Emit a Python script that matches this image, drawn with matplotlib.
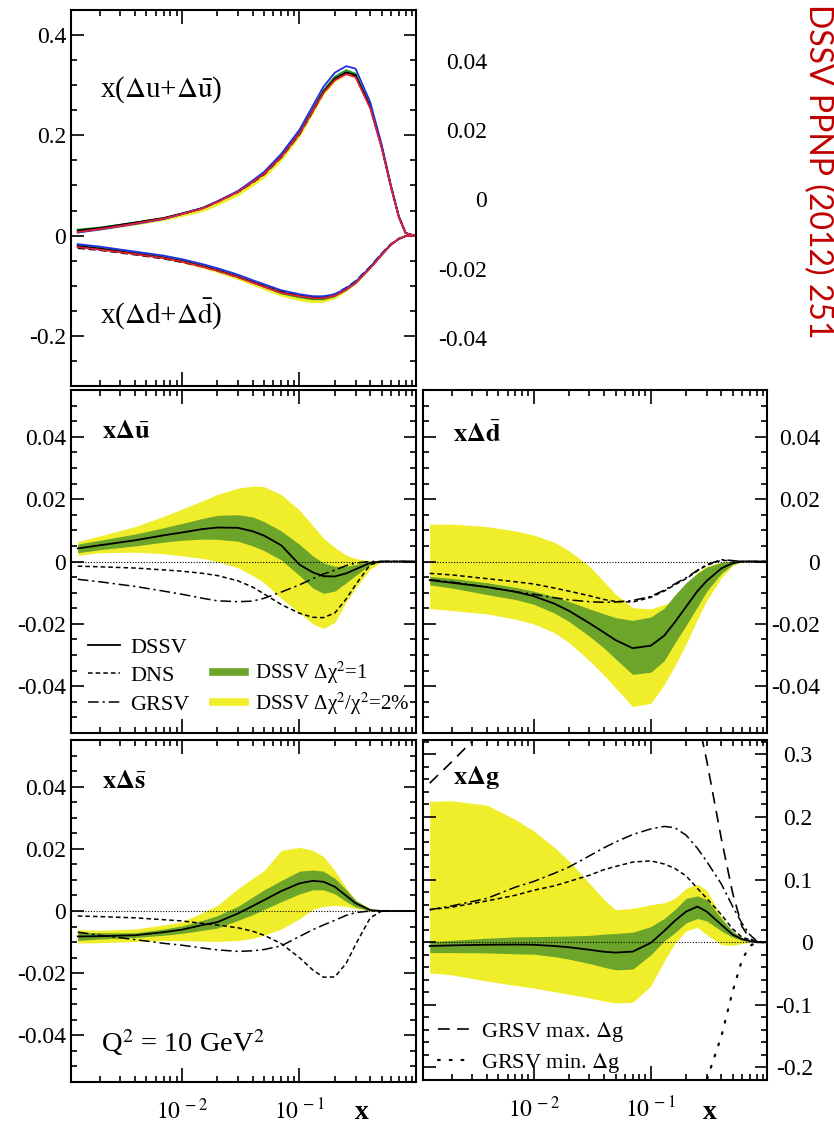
import numpy as np
import matplotlib
matplotlib.use('Agg')
import matplotlib.pyplot as plt
from matplotlib.lines import Line2D
from matplotlib.ticker import MultipleLocator, LogLocator, NullFormatter, FixedLocator, FuncFormatter

# common x grid (log scale)
xg = [1.3e-3, 2e-3, 4e-3, 7e-3, 0.01, 0.015, 0.02, 0.03, 0.04, 0.05, 0.07, 0.1,
      0.13, 0.16, 0.2, 0.25, 0.3, 0.4, 0.5, 0.6, 0.7, 0.8, 0.95]

# top panel: x(Du+Dubar) and x(Dd+Ddbar), several fits
u_black = [0.010, 0.015, 0.026, 0.035, 0.044, 0.055, 0.068, 0.088, 0.108, 0.124, 0.158, 0.204,
           0.250, 0.287, 0.313, 0.326, 0.320, 0.257, 0.177, 0.098, 0.038, 0.005, 0.0]
u_blue = [0.006, 0.012, 0.023, 0.033, 0.043, 0.055, 0.068, 0.089, 0.110, 0.127, 0.163, 0.211,
          0.259, 0.297, 0.325, 0.338, 0.333, 0.266, 0.182, 0.100, 0.038, 0.005, 0.0]
u_red = [0.007, 0.013, 0.024, 0.034, 0.043, 0.054, 0.067, 0.087, 0.107, 0.123, 0.157, 0.203,
         0.249, 0.285, 0.310, 0.322, 0.316, 0.254, 0.175, 0.097, 0.037, 0.005, 0.0]
u_green = [0.012, 0.016, 0.026, 0.035, 0.044, 0.055, 0.068, 0.088, 0.107, 0.123, 0.157, 0.205,
           0.252, 0.290, 0.317, 0.330, 0.323, 0.258, 0.178, 0.098, 0.038, 0.005, 0.0]
u_dash = [0.009, 0.014, 0.025, 0.034, 0.043, 0.054, 0.067, 0.087, 0.106, 0.122, 0.156, 0.202,
          0.248, 0.285, 0.311, 0.324, 0.318, 0.256, 0.177, 0.098, 0.038, 0.005, 0.0]
u_band_lo = [0.006, 0.011, 0.021, 0.030, 0.038, 0.048, 0.060, 0.080, 0.099, 0.115, 0.149, 0.196,
             0.243, 0.281, 0.307, 0.321, 0.315, 0.253, 0.174, 0.096, 0.037, 0.005, 0.0]
u_band_hi = [0.012, 0.017, 0.028, 0.037, 0.046, 0.057, 0.070, 0.090, 0.110, 0.126, 0.160, 0.206,
             0.252, 0.289, 0.315, 0.328, 0.322, 0.259, 0.179, 0.099, 0.039, 0.005, 0.0]

d_black = [-0.021, -0.026, -0.036, -0.044, -0.051, -0.061, -0.069, -0.082, -0.093, -0.101, -0.113, -0.120,
           -0.124, -0.124, -0.119, -0.107, -0.094, -0.064, -0.038, -0.018, -0.0066, -0.001, 0.0]
d_blue = [-0.017, -0.022, -0.032, -0.040, -0.047, -0.057, -0.065, -0.078, -0.089, -0.097, -0.109, -0.117,
          -0.121, -0.121, -0.117, -0.105, -0.092, -0.063, -0.037, -0.018, -0.0066, -0.001, 0.0]
d_red = [-0.023, -0.028, -0.037, -0.045, -0.052, -0.062, -0.070, -0.083, -0.094, -0.102, -0.114, -0.121,
         -0.125, -0.125, -0.120, -0.108, -0.095, -0.065, -0.039, -0.018, -0.0066, -0.001, 0.0]
d_green = [-0.019, -0.024, -0.034, -0.043, -0.050, -0.060, -0.068, -0.082, -0.093, -0.102, -0.115, -0.123,
           -0.127, -0.127, -0.121, -0.108, -0.094, -0.064, -0.038, -0.018, -0.0066, -0.001, 0.0]
d_dash = [-0.025, -0.029, -0.038, -0.046, -0.053, -0.062, -0.070, -0.083, -0.093, -0.101, -0.112, -0.119,
          -0.122, -0.122, -0.117, -0.104, -0.091, -0.062, -0.036, -0.017, -0.006, -0.001, 0.0]
d_band_lo = [-0.022, -0.027, -0.037, -0.046, -0.054, -0.065, -0.074, -0.088, -0.099, -0.108, -0.121, -0.130,
             -0.134, -0.133, -0.126, -0.111, -0.097, -0.066, -0.039, -0.019, -0.007, -0.001, 0.0]
d_band_hi = [-0.018, -0.023, -0.033, -0.041, -0.048, -0.058, -0.066, -0.079, -0.090, -0.098, -0.110, -0.117,
             -0.120, -0.120, -0.116, -0.105, -0.092, -0.063, -0.037, -0.017, -0.006, -0.001, 0.0]

# x Delta ubar
ubar_dssv = [0.0042, 0.0052, 0.0068, 0.0084, 0.0093, 0.0104, 0.0109, 0.0108, 0.0097, 0.0083, 0.0052, -0.001,
             -0.0035, -0.0047, -0.0048, -0.0038, -0.0025, -0.0004, 0, 0, 0, 0, 0]
ubar_g_hi = [0.0056, 0.0068, 0.0088, 0.0108, 0.0122, 0.0138, 0.0148, 0.015, 0.0143, 0.0128, 0.0098, 0.0055,
             0.0018, -0.0005, -0.0015, -0.0015, -0.001, 0, 0, 0, 0, 0, 0]
ubar_g_lo = [0.0028, 0.0038, 0.005, 0.0062, 0.0068, 0.0072, 0.0071, 0.0065, 0.005, 0.0035, 0.0005, -0.0045,
             -0.0085, -0.0102, -0.0095, -0.0068, -0.0045, -0.001, 0, 0, 0, 0, 0]
ubar_y_hi = [0.0064, 0.0082, 0.0112, 0.0145, 0.0168, 0.0195, 0.0215, 0.0235, 0.0242, 0.024, 0.0215, 0.0165,
             0.0115, 0.0075, 0.0045, 0.002, 0.001, 0.0002, 0, 0, 0, 0, 0]
ubar_y_lo = [0.002, 0.0028, 0.003, 0.0025, 0.0018, 0.001, 0.0, -0.002, -0.0045, -0.0068, -0.0118, -0.0165,
             -0.02, -0.0215, -0.0195, -0.013, -0.0085, -0.0025, 0, 0, 0, 0, 0]
ubar_dns = [-0.0015, -0.0017, -0.0021, -0.0027, -0.0031, -0.0038, -0.0045, -0.0062, -0.0082, -0.0104, -0.0138, -0.0166,
            -0.0179, -0.018, -0.0165, -0.012, -0.0075, -0.001, 0, 0, 0, 0, 0]
ubar_grsv = [-0.0057, -0.0065, -0.008, -0.0095, -0.0105, -0.0118, -0.0126, -0.0129, -0.0127, -0.0118, -0.0098, -0.0075,
             -0.0055, -0.004, -0.0028, -0.0013, -0.0005, 0, 0, 0, 0, 0, 0]

# x Delta dbar
dbar_dssv = [-0.006, -0.0068, -0.0082, -0.0097, -0.0111, -0.0135, -0.0158, -0.0198, -0.0228, -0.0252, -0.0278, -0.027,
             -0.0238, -0.0195, -0.0145, -0.0095, -0.0062, -0.0022, -0.0005, 0, 0, 0, 0]
dbar_g_hi = [-0.0048, -0.0054, -0.0068, -0.0083, -0.0095, -0.0113, -0.0128, -0.0152, -0.0168, -0.018, -0.0189, -0.0178,
             -0.015, -0.0108, -0.0068, -0.0038, -0.0018, -0.0003, 0, 0, 0, 0, 0]
dbar_g_lo = [-0.0075, -0.0085, -0.0106, -0.0122, -0.0137, -0.0165, -0.0192, -0.024, -0.0278, -0.0312, -0.0362, -0.0355,
             -0.0318, -0.0262, -0.0205, -0.0145, -0.0095, -0.0038, -0.001, 0, 0, 0, 0]
dbar_y_hi = [0.012, 0.012, 0.0112, 0.0098, 0.0085, 0.0062, 0.0035, -0.0015, -0.0065, -0.0105, -0.0148, -0.0152,
             -0.0138, -0.0125, -0.0075, -0.0035, -0.0015, -0.0002, 0, 0, 0, 0, 0]
dbar_y_lo = [-0.0151, -0.0157, -0.0168, -0.0185, -0.02, -0.0228, -0.026, -0.0318, -0.0365, -0.0405, -0.0465, -0.0455,
             -0.0395, -0.0335, -0.0265, -0.0185, -0.0125, -0.0052, -0.0012, 0, 0, 0, 0]
dbar_dns = [-0.0038, -0.0043, -0.0055, -0.0065, -0.0072, -0.0085, -0.0095, -0.011, -0.0122, -0.0128, -0.013, -0.0115,
            -0.0095, -0.0075, -0.0055, -0.003, -0.0012, 0.0004, 0.0002, 0, 0, 0, 0]
dbar_grsv = [-0.0058, -0.0066, -0.0082, -0.0097, -0.0105, -0.0116, -0.0123, -0.0129, -0.0131, -0.013, -0.0125, -0.0112,
             -0.0092, -0.0072, -0.0052, -0.0028, -0.001, 0.0006, 0.0003, 0, 0, 0, 0]

# x Delta sbar
sbar_dssv = [-0.0082, -0.0081, -0.0078, -0.0068, -0.006, -0.0045, -0.0036, -0.0008, 0.0016, 0.0035, 0.0064, 0.0089,
             0.0097, 0.0094, 0.0078, 0.0049, 0.0025, 0.0003, 0, 0, 0, 0, 0]
sbar_g_hi = [-0.0068, -0.007, -0.007, -0.0058, -0.0048, -0.003, -0.0015, 0.0015, 0.0045, 0.0068, 0.0098, 0.0128,
             0.0132, 0.0128, 0.0105, 0.0068, 0.0035, 0.0005, 0, 0, 0, 0, 0]
sbar_g_lo = [-0.0095, -0.009, -0.0085, -0.0078, -0.0072, -0.0062, -0.0055, -0.003, -0.0012, 0.0005, 0.003, 0.0055,
             0.0068, 0.0068, 0.0055, 0.003, 0.0013, 0.0, 0, 0, 0, 0, 0]
sbar_y_hi = [-0.006, -0.0062, -0.0058, -0.0045, -0.0035, -0.0005, 0.0018, 0.0072, 0.0105, 0.013, 0.0195, 0.0205,
             0.0195, 0.0175, 0.013, 0.0075, 0.0035, 0.0008, 0, 0, 0, 0, 0]
sbar_y_lo = [-0.0103, -0.0102, -0.0098, -0.0095, -0.0095, -0.0097, -0.0098, -0.0095, -0.0088, -0.0078, -0.0058, -0.0025,
             0.0005, 0.0015, 0.0018, 0.0015, 0.0008, 0.0001, 0, 0, 0, 0, 0]
sbar_dns = [-0.0016, -0.0018, -0.0022, -0.0028, -0.0032, -0.004, -0.0045, -0.0054, -0.0065, -0.0078, -0.0105, -0.015,
            -0.019, -0.0213, -0.0212, -0.0168, -0.0108, -0.0022, 0, 0, 0, 0, 0]
sbar_grsv = [-0.0068, -0.0078, -0.0092, -0.0104, -0.011, -0.0119, -0.0125, -0.013, -0.0128, -0.0124, -0.0112, -0.0082,
             -0.006, -0.0045, -0.003, -0.0014, -0.0005, 0, 0, 0, 0, 0, 0]

# x Delta g
g_dssv = [-0.006, -0.005, -0.004, -0.0037, -0.004, -0.006, -0.008, -0.012, -0.0152, -0.0165, -0.015, -0.001,
          0.018, 0.034, 0.049, 0.057, 0.049, 0.028, 0.012, 0.005, 0.002, 0, 0]
g_g_hi = [0.001, 0.003, 0.0065, 0.0085, 0.009, 0.0095, 0.010, 0.011, 0.013, 0.014, 0.016, 0.025,
          0.038, 0.052, 0.070, 0.074, 0.068, 0.038, 0.018, 0.007, 0.002, 0, 0]
g_g_lo = [-0.0165, -0.0165, -0.017, -0.0185, -0.019, -0.023, -0.027, -0.034, -0.04, -0.044, -0.043, -0.02,
          0.002, 0.015, 0.031, 0.038, 0.034, 0.018, 0.008, 0.003, 0.0008, 0, 0]
g_y_hi = [0.225, 0.226, 0.219, 0.196, 0.178, 0.152, 0.13, 0.094, 0.068, 0.052, 0.054, 0.06,
          0.063, 0.07, 0.086, 0.093, 0.083, 0.041, 0.014, 0.005, 0.002, 0, 0]
g_y_lo = [-0.049, -0.052, -0.062, -0.069, -0.073, -0.079, -0.083, -0.089, -0.094, -0.097, -0.096, -0.07,
          -0.03, -0.002, 0.018, 0.024, 0.012, -0.004, -0.005, -0.002, 0, 0, 0]
g_dns = [0.052, 0.056, 0.066, 0.075, 0.083, 0.09, 0.097, 0.107, 0.116, 0.121, 0.128, 0.13,
         0.125, 0.118, 0.106, 0.086, 0.07, 0.044, 0.021, 0.008, 0.004, 0, 0]
g_grsv = [0.052, 0.058, 0.07, 0.088, 0.097, 0.11, 0.12, 0.138, 0.151, 0.16, 0.172, 0.181,
          0.185, 0.183, 0.171, 0.15, 0.129, 0.093, 0.057, 0.03, 0.012, 0.002, 0]
g_max = [0.254, 0.288, 0.345, 0.39, 0.42, 0.45, 0.47, 0.5, 0.52, 0.53, 0.54, 0.55,
         0.53, 0.48, 0.42, 0.36, 0.29, 0.165, 0.078, 0.025, 0.006, 0, 0]
x_gmin = [0.25, 0.3, 0.4, 0.5, 0.6, 0.7, 0.8, 0.95]
g_min = [-0.3, -0.22, -0.15, -0.078, -0.028, -0.006, 0, 0]

yt_top = [-0.2, 0, 0.2, 0.4]
yt_q = [-0.04, -0.02, 0, 0.02, 0.04]
yt_g = [-0.2, -0.1, 0, 0.1, 0.2, 0.3]

YELLOW = '#f0ee2b'
GREEN = '#6ca52a'
LS_DNS = (0, (3, 2))
LS_GRSV = (0, (7, 2.5, 1.5, 2.5))
LS_ZERO = (0, (1, 1.5))
LS_MAX = (0, (7, 4.5))
LS_MIN = (0, (0.8, 4.5))
XLIM = (1.14e-3, 0.98)
TICK_FS = 17

plt.rcParams['font.family'] = ['Liberation Serif', 'DejaVu Serif']
plt.rcParams['mathtext.fontset'] = 'stix'

W, H = 834, 1124
fig = plt.figure(figsize=(W / 100, H / 100), dpi=100)


def px_axes(x0, y0, x1, y1):
    return fig.add_axes([x0 / W, 1 - y1 / H, (x1 - x0) / W, (y1 - y0) / H])


def fmt(v):
    return f'{round(v, 6) + 0:g}'


def style(ax, ylim, yt, minor, right=False, pad=4, xlabels=False):
    ax.set_xscale('log')
    ax.set_xlim(XLIM)
    ax.set_ylim(ylim)
    ax.xaxis.set_major_locator(FixedLocator([1e-2, 1e-1]))
    ax.xaxis.set_minor_locator(LogLocator(base=10, subs=np.arange(2, 10)))
    ax.xaxis.set_minor_formatter(NullFormatter())
    ax.xaxis.set_major_formatter(FuncFormatter(lambda v, p: r'$10^{\,%d}$' % round(np.log10(v))))
    ax.yaxis.set_minor_locator(MultipleLocator(minor))
    ax.tick_params(which='both', direction='in', top=True, right=True, width=1.2,
                   labelsize=TICK_FS, labelbottom=xlabels)
    ax.tick_params(axis='x', which='major', length=10, pad=12)
    ax.tick_params(axis='y', which='major', length=9)
    ax.tick_params(which='minor', length=4.5)
    if right:
        ax.tick_params(axis='y', labelleft=False, labelright=True, pad=pad)
        ax.set_yticks(yt, labels=[fmt(v) for v in yt], ha='right')
    else:
        ax.set_yticks(yt, labels=[fmt(v) for v in yt])
    for s in ax.spines.values():
        s.set_linewidth(1.5)


def pdf_panel(ax, y_lo, y_hi, g_lo, g_hi, central, dns, grsv):
    ax.fill_between(xg, y_lo, y_hi, color=YELLOW, lw=0)
    ax.fill_between(xg, g_lo, g_hi, color=GREEN, lw=0)
    ax.axhline(0, color='k', lw=0.8, ls=LS_ZERO)
    ax.plot(xg, dns, color='k', lw=1.1, ls=LS_DNS)
    ax.plot(xg, grsv, color='k', lw=1.1, ls=LS_GRSV)
    ax.plot(xg, central, color='k', lw=1.3)


# ---- top panel
ax0 = px_axes(71, 10, 416, 386)
ax0.fill_between(xg, u_band_lo, u_band_hi, color=YELLOW, lw=0)
ax0.fill_between(xg, d_band_lo, d_band_hi, color=YELLOW, lw=0)
for uu, dd, c, ls in [(u_green, d_green, '#1a9a1a', '-'), (u_black, d_black, 'k', '-'),
                      (u_dash, d_dash, 'k', (0, (4, 2))), (u_blue, d_blue, '#2030e0', '-'),
                      (u_red, d_red, '#e0203a', '-')]:
    ax0.plot(xg, uu, color=c, lw=1.3, ls=ls)
    ax0.plot(xg, dd, color=c, lw=1.3, ls=ls)
style(ax0, (-0.3, 0.45), yt_top, 0.05)
ax0.text(0.083, 0.787, r'x($\Delta$u+$\Delta\bar{\mathrm{u}}$)', transform=ax0.transAxes,
         fontsize=21, va='center')
ax0.text(0.083, 0.19, r'x($\Delta$d+$\Delta\bar{\mathrm{d}}$)', transform=ax0.transAxes,
         fontsize=21, va='center')

# ---- leftover tick labels of the hidden top-right frame
axg = px_axes(490, 10, 520, 386)
axg.set_ylim(-0.0539, 0.0547)
axg.set_xticks([])
axg.set_yticks(yt_q, labels=[fmt(v) for v in yt_q])
axg.tick_params(axis='y', length=0, pad=2, labelsize=TICK_FS)
axg.patch.set_visible(False)
for s in axg.spines.values():
    s.set_visible(False)

# ---- x Delta ubar
ax1 = px_axes(71, 390, 416, 733)
pdf_panel(ax1, ubar_y_lo, ubar_y_hi, ubar_g_lo, ubar_g_hi, ubar_dssv, ubar_dns, ubar_grsv)
style(ax1, (-0.055, 0.055), yt_q, 0.005)
ax1.text(0.09, 0.877, r'$\mathbf{x}\mathbf{\Delta}\bar{\mathbf{u}}$', transform=ax1.transAxes,
         fontsize=19, va='center')
h_lines = [Line2D([], [], color='k', lw=1.3),
           Line2D([], [], color='k', lw=1.1, ls=LS_DNS),
           Line2D([], [], color='k', lw=1.1, ls=LS_GRSV)]
leg_a = ax1.legend(h_lines, ['DSSV', 'DNS', 'GRSV'], loc='lower left',
                   bbox_to_anchor=(0.05, 0.053), frameon=False, fontsize=16,
                   handlelength=1.45, handletextpad=0.45, labelspacing=0.36,
                   borderpad=0, borderaxespad=0)
ax1.add_artist(leg_a)
h_bands = [Line2D([], [], color=GREEN, lw=5.5), Line2D([], [], color=YELLOW, lw=5.5)]
ax1.legend(h_bands, ['DSSV Δχ$^2$=1', 'DSSV Δχ$^2$/χ$^2$=2%'], loc='lower left',
           bbox_to_anchor=(0.412, 0.047), frameon=False, fontsize=15,
           handlelength=1.55, handletextpad=0.45, labelspacing=0.2,
           borderpad=0, borderaxespad=0)

# ---- x Delta dbar
ax2 = px_axes(423, 390, 767, 733)
pdf_panel(ax2, dbar_y_lo, dbar_y_hi, dbar_g_lo, dbar_g_hi, dbar_dssv, dbar_dns, dbar_grsv)
style(ax2, (-0.055, 0.055), yt_q, 0.005, right=True, pad=38)
ax2.text(0.087, 0.87, r'$\mathbf{x}\mathbf{\Delta}\bar{\mathbf{d}}$', transform=ax2.transAxes,
         fontsize=19, va='center')

# ---- x Delta sbar
ax3 = px_axes(71, 740, 416, 1082)
pdf_panel(ax3, sbar_y_lo, sbar_y_hi, sbar_g_lo, sbar_g_hi, sbar_dssv, sbar_dns, sbar_grsv)
style(ax3, (-0.055, 0.055), yt_q, 0.005, xlabels=True)
ax3.text(0.09, 0.877, r'$\mathbf{x}\mathbf{\Delta}\bar{\mathbf{s}}$', transform=ax3.transAxes,
         fontsize=19, va='center')
ax3.text(0.088, 0.115, r'Q$^2$ = 10 GeV$^2$', transform=ax3.transAxes, fontsize=20.5, va='center')
ax3.set_xlabel('x', fontsize=20, fontweight='bold', va='center')
ax3.xaxis.set_label_coords(0.843, -0.09)

# ---- x Delta g
ax4 = px_axes(423, 740, 767, 1080)
pdf_panel(ax4, g_y_lo, g_y_hi, g_g_lo, g_g_hi, g_dssv, g_dns, g_grsv)
ax4.plot(xg, g_max, color='k', lw=1.2, ls=LS_MAX)
ax4.plot(x_gmin, g_min, color='k', lw=1.6, ls=LS_MIN, dash_capstyle='round')
style(ax4, (-0.22, 0.323), yt_g, 0.02, right=True, pad=33, xlabels=True)
ax4.text(0.087, 0.89, r'$\mathbf{x}\mathbf{\Delta}\mathbf{g}$', transform=ax4.transAxes,
         fontsize=19, va='center')
h2 = [Line2D([], [], color='k', lw=1.2, ls=LS_MAX),
      Line2D([], [], color='k', lw=1.6, ls=LS_MIN, dash_capstyle='round')]
ax4.legend(h2, [r'GRSV max. $\Delta$g', r'GRSV min. $\Delta$g'], loc='lower left',
           bbox_to_anchor=(0.044, 0.015), frameon=False, fontsize=16, handlelength=1.45,
           handletextpad=0.5, labelspacing=0.3, borderpad=0, borderaxespad=0)
ax4.set_xlabel('x', fontsize=20, fontweight='bold', va='center')
ax4.xaxis.set_label_coords(0.834, -0.097)

# ---- source note
fig.text(818 / W, 1 - 4 / H, 'DSSV PPNP (2012) 251', rotation=-90, color='#c00000',
         fontsize=23, family=['Lato', 'DejaVu Sans'], ha='center', va='top')

fig.savefig('out.png', dpi=100)
